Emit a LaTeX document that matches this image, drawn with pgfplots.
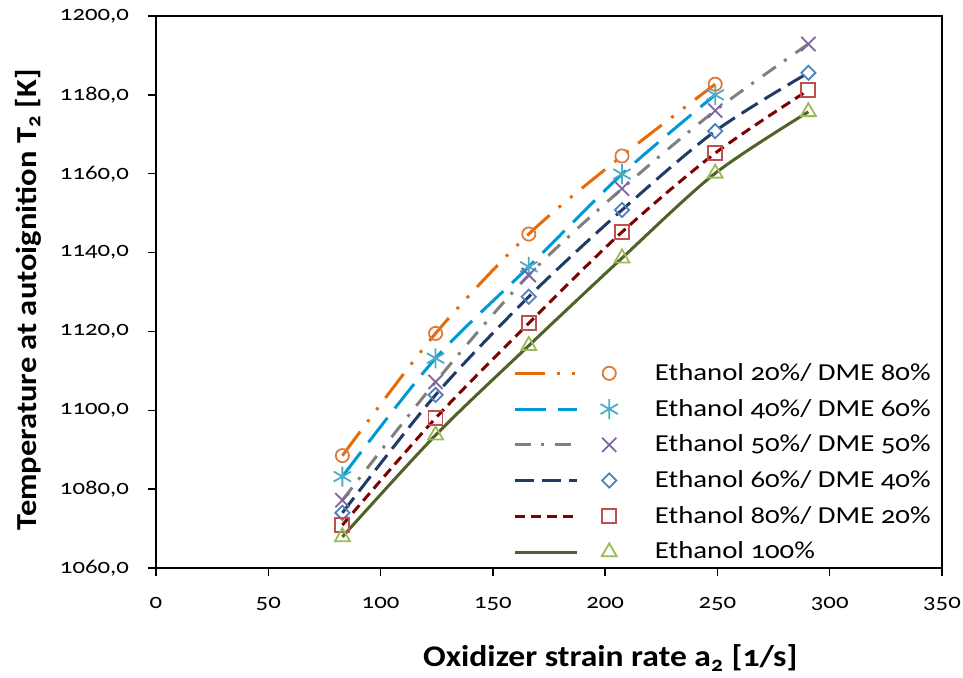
\documentclass[border=0pt]{standalone}
\usepackage{pgfplots}
\pgfplotsset{compat=1.18}
\usepackage{fontspec}
\setmainfont{Carlito}
\newfontfamily\tickfont[Numbers=OldStyle,FakeStretch=1.18]{Carlito}
\newfontfamily\labfont[Numbers=OldStyle,FakeStretch=1.12]{Carlito}
\definecolor{lorange}{HTML}{E46C0A}
\definecolor{lcyan}{HTML}{0099D6}
\definecolor{lgray}{HTML}{808080}
\definecolor{lblue}{HTML}{1F3B66}
\definecolor{lred}{HTML}{800000}
\definecolor{lgreen}{HTML}{4F6228}
\definecolor{morange}{HTML}{E07A3A}
\definecolor{mcyan}{HTML}{4BACC6}
\definecolor{mpurple}{HTML}{8064A2}
\definecolor{mblue}{HTML}{4F81BD}
\definecolor{mred}{HTML}{C0504D}
\definecolor{mgreen}{HTML}{9BBB59}
\begin{document}
\begin{tikzpicture}
\begin{axis}[
  scale only axis, width=393pt, height=276pt,
  at={(0,0)}, anchor=south west,
  xmin=0, xmax=350, ymin=1060, ymax=1200,
  xtick={0,50,...,350}, ytick={1060,1080,...,1200},
  xtick pos=lower, ytick pos=left,
  axis line style={line width=1.4pt},
  tick style={line width=0.7pt, black},
  tick align=outside, major tick length=4pt,
  /pgf/number format/assume math mode=true,
  x tick label style={font=\tickfont\fontsize{10.5}{12}\selectfont, yshift=-7pt},
  y tick label style={font=\tickfont\fontsize{10.5}{12}\selectfont, xshift=-6pt,
    /pgf/number format/.cd, fixed, fixed zerofill, precision=1, use comma, 1000 sep={}},
  xlabel={Oxidizer strain rate a\textsubscript{2} [1/s]},
  ylabel={Temperature at autoignition T\textsubscript{2} [K]},
  xlabel style={font=\labfont\bfseries\fontsize{15}{17}\selectfont, at={(axis description cs:0.578,-0.163)}, anchor=center},
  ylabel style={font=\labfont\bfseries\fontsize{14.5}{16}\selectfont, at={(axis description cs:-0.163,0.486)}, anchor=center},
  legend style={at={(0.447,0.386)}, anchor=north west, draw=none, fill=none,
    font=\tickfont\fontsize{12.2}{14}\selectfont, row sep=3.9pt,
    /tikz/every odd column/.append style={column sep=16.5pt},
    /tikz/every even column/.append style={column sep=0pt}},
  legend cell align=left,
  legend image code/.code={
    \draw[mark=none] (0pt,0pt) -- (31pt,0pt);
    \draw[only marks] plot coordinates {(47pt,0pt)};
  },
  every axis plot/.append style={line width=1.5pt},
]
\addplot[smooth, lorange, dash pattern=on 15pt off 6pt on 1.5pt off 6pt on 1.5pt off 6pt,
  mark=o, mark size=3.3pt, mark options={solid, draw=morange, line width=0.9pt}]
  coordinates {(83,1088.5)(124.5,1119.5)(166,1144.7)(207.5,1164.5)(249,1182.7)};
\addlegendentry{Ethanol 20\%/ DME 80\%}
\addplot[smooth, lcyan, dash pattern=on 15.5pt off 6pt,
  mark=asterisk, mark size=5pt, mark options={solid, draw=mcyan, line width=0.9pt}]
  coordinates {(83,1083.2)(124.5,1113.2)(166,1136.4)(207.5,1159.9)(249,1180.0)};
\addlegendentry{Ethanol 40\%/ DME 60\%}
\addplot[smooth, lgray, dash pattern=on 8pt off 5pt on 1.5pt off 5.5pt,
  mark=x, mark size=5pt, mark options={solid, draw=mpurple, line width=0.9pt}]
  coordinates {(83,1077.2)(124.5,1107.2)(166,1134.3)(207.5,1156.2)(249,1176.0)(290.5,1192.9)};
\addlegendentry{Ethanol 50\%/ DME 50\%}
\addplot[smooth, lblue, dash pattern=on 9.5pt off 4pt,
  mark=square, mark size=2.5pt, mark options={solid, rotate=45, draw=mblue, line width=0.9pt}]
  coordinates {(83,1074.0)(124.5,1103.9)(166,1128.8)(207.5,1150.8)(249,1170.8)(290.5,1185.6)};
\addlegendentry{Ethanol 60\%/ DME 40\%}
\addplot[smooth, lred, dash pattern=on 5pt off 3pt,
  mark=square, mark size=3.5pt, mark options={solid, draw=mred, line width=0.9pt}]
  coordinates {(83,1070.9)(124.5,1098.0)(166,1122.1)(207.5,1145.2)(249,1165.2)(290.5,1181.2)};
\addlegendentry{Ethanol 80\%/ DME 20\%}
\addplot[smooth, lgreen, solid,
  mark=triangle, mark size=4.3pt, mark options={solid, draw=mgreen, line width=0.9pt}]
  coordinates {(83,1067.9)(124.5,1093.7)(166,1116.4)(207.5,1138.6)(249,1160.1)(290.5,1175.7)};
\addlegendentry{Ethanol 100\%}
\end{axis}
\pgfresetboundingbox
\path[use as bounding box] (-78pt,-54.5pt) rectangle (403.5pt,284pt);
\end{tikzpicture}
\end{document}
